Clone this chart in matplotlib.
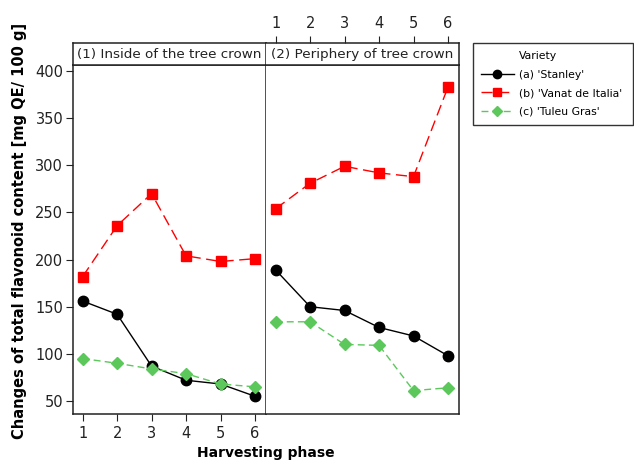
import matplotlib
matplotlib.use("Agg")
import matplotlib.pyplot as plt
from matplotlib.lines import Line2D

phases = [1, 2, 3, 4, 5, 6]
panels = ["(1) Inside of the tree crown", "(2) Periphery of tree crown"]
varieties = ["(a) 'Stanley'", "(b) 'Vanat de Italia'", "(c) 'Tuleu Gras'"]

stanley_inside = [156, 142, 87, 72, 68, 55]
vanat_inside = [182, 236, 270, 204, 198, 201]
tuleu_inside = [95, 90, 84, 79, 68, 65]

stanley_periph = [189, 150, 146, 128, 119, 98]
vanat_periph = [254, 281, 299, 292, 288, 383]
tuleu_periph = [134, 134, 110, 109, 61, 64]

yticks = [50, 100, 150, 200, 250, 300, 350, 400]

plt.rcParams['font.family'] = ['DejaVu Sans']
W, H = 634, 463
fig = plt.figure(figsize=(W / 100, H / 100), dpi=100)

styles = [
    dict(color='black', marker='o', linestyle='-', markersize=7.5, linewidth=1.0),
    dict(color='#ff0000', marker='s', linestyle=(0, (8, 4)), markersize=7, linewidth=1.0),
    dict(color='#5cc85c', marker='D', linestyle=(0, (5, 3)), markersize=6.5, linewidth=1.0),
]

data = [
    [stanley_inside, vanat_inside, tuleu_inside],
    [stanley_periph, vanat_periph, tuleu_periph],
]

def fx(px):
    return px / W

def fy(py):
    return 1 - py / H

x_edges = [73, 266, 459]
top_px, strip_px, bot_px = 43, 64.5, 413.7
xlim = (0.72, 6.32)
ylim = (36.5, 407)
fs = 10.5
tc = '#222222'

for i in range(2):
    ax = fig.add_axes([fx(x_edges[i]), fy(bot_px), fx(x_edges[i + 1] - x_edges[i]), fy(strip_px) - fy(bot_px)])
    for series, st in zip(data[i], styles):
        ax.plot(phases, series, **st)
    ax.set_xlim(*xlim)
    ax.set_ylim(*ylim)
    ax.set_xticks(phases)
    ax.set_yticks(yticks)
    ax.tick_params(labelsize=fs, direction='out', length=5, color=tc, labelcolor=tc)
    for s in ax.spines.values():
        s.set_linewidth(1.1)
        s.set_color(tc)
    if i == 0:
        ax.tick_params(axis='y', pad=2)
    else:
        ax.tick_params(axis='y', left=False, labelleft=False)
        ax.tick_params(axis='x', bottom=False, labelbottom=False)
        ax.spines['left'].set_visible(False)

    sax = fig.add_axes([fx(x_edges[i]), fy(strip_px), fx(x_edges[i + 1] - x_edges[i]), fy(top_px) - fy(strip_px)])
    sax.set_xlim(*xlim)
    sax.set_yticks([])
    for s in sax.spines.values():
        s.set_linewidth(1.1)
        s.set_color(tc)
    if i == 1:
        sax.spines['left'].set_visible(False)
        sax.xaxis.tick_top()
        sax.set_xticks(phases)
        sax.tick_params(axis='x', labelsize=fs, direction='out', length=5, color=tc, labelcolor=tc)
    else:
        sax.set_xticks([])
    sax.text(0.5, 0.47, panels[i], transform=sax.transAxes, ha='center', va='center', fontsize=9.7, color=tc)

fig.text(fx(20), fy(231), "Changes of total flavonoid content [mg QE/ 100 g]", rotation=90,
         ha='center', va='center', fontsize=10.5, fontweight='bold')
fig.text(fx(266), fy(453), "Harvesting phase", ha='center', va='center', fontsize=10, fontweight='bold')

handles = [Line2D([], [], linestyle='none', marker=None)]
labels = ["Variety"]
for name, st in zip(varieties, styles):
    handles.append(Line2D([], [], **st))
    labels.append(name)
leg = fig.legend(handles, labels, loc='upper left',
                 bbox_to_anchor=(fx(473), fy(121), fx(634 - 473) - 0.002, fy(43) - fy(121)),
                 bbox_transform=fig.transFigure, mode='expand', fontsize=7.8, frameon=True, fancybox=False,
                 edgecolor='black', handlelength=3.0, borderpad=0.75, labelspacing=0.78,
                 handletextpad=0.5, borderaxespad=0, markerscale=0.8)
leg.get_frame().set_linewidth(1.0)

fig.savefig("out.png", dpi=100)
